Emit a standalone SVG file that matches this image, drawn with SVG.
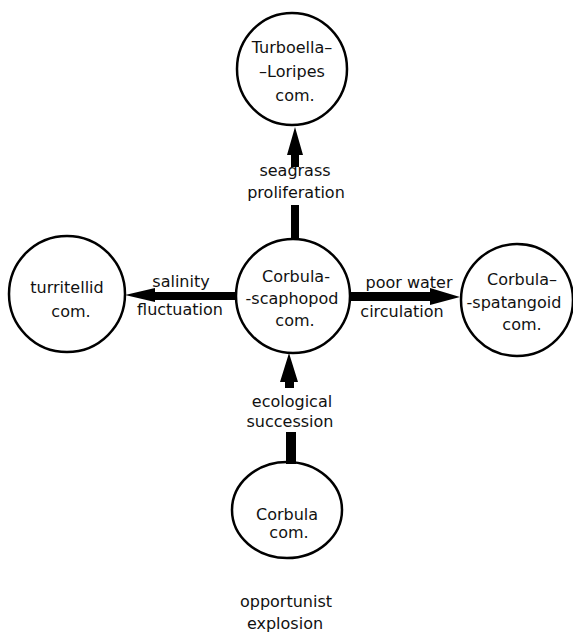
<svg xmlns="http://www.w3.org/2000/svg" width="573" height="634" viewBox="0 0 573 634">
<style>
.n{fill:none;stroke:#000;stroke-width:2.5}
text{font-family:"DejaVu Sans",sans-serif;font-size:16px;fill:#111;text-anchor:middle}
.a{fill:#000}
</style>
<rect width="573" height="634" fill="#fff"/>
<g id="connectors">
<polygon class="a" points="295,127 303,155 299,155 299,167 291,167 291,155 287,155"/>
<rect class="a" x="291" y="205" width="8" height="34"/>
<polygon class="a" points="125,295 155,288 155,292 237,292 237,300 155,300 155,302"/>
<polygon class="a" points="460,297 430,305 430,301 350,301 350,292 430,292 430,288"/>
<polygon class="a" points="289,353 298,382 294,382 294,388 285,388 285,382 280,382"/>
<rect class="a" x="286" y="432" width="10" height="32"/>
</g>
<g id="turboella">
<ellipse class="n" cx="292" cy="69" rx="55" ry="56"/>
<text x="292" y="53">Turboella–</text>
<text x="292" y="77">–Loripes</text>
<text x="295" y="101">com.</text>
</g>
<g id="scaphopod">
<circle class="n" cx="293" cy="296" r="57"/>
<text x="296" y="282">Corbula-</text>
<text x="292" y="304">-scaphopod</text>
<text x="295" y="326">com.</text>
</g>
<g id="turritellid">
<circle class="n" cx="67" cy="294" r="58"/>
<text x="67" y="293">turritellid</text>
<text x="71" y="317">com.</text>
</g>
<g id="spatangoid">
<circle class="n" cx="517" cy="300" r="56"/>
<text x="522" y="285">Corbula–</text>
<text x="514" y="308">-spatangoid</text>
<text x="522" y="330">com.</text>
</g>
<g id="corbula">
<ellipse class="n" cx="287" cy="510" rx="55" ry="48"/>
<text x="287" y="520">Corbula</text>
<text x="289" y="538">com.</text>
</g>
<g id="labels">
<text x="295" y="176">seagrass</text>
<text x="296" y="198">proliferation</text>
<text x="181" y="287">salinity</text>
<text x="180" y="315">fluctuation</text>
<text x="409" y="288">poor water</text>
<text x="402" y="317">circulation</text>
<text x="292" y="407">ecological</text>
<text x="290" y="427">succession</text>
<text x="286" y="607">opportunist</text>
<text x="285" y="629">explosion</text>
</g>
</svg>
